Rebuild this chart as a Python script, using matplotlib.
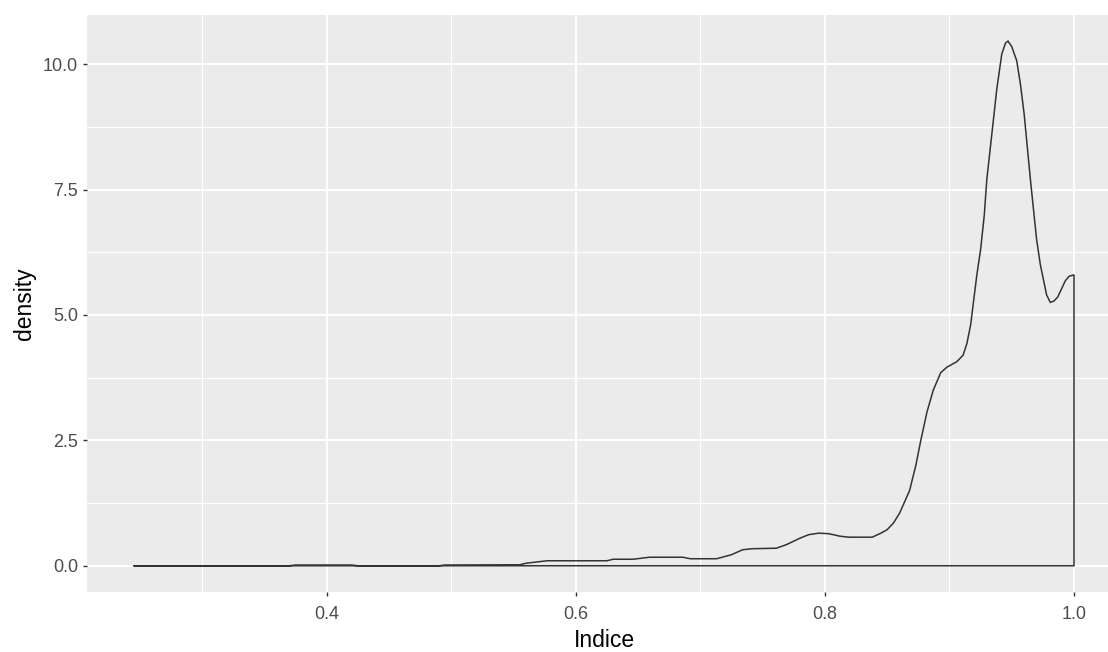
import numpy as np
import matplotlib.pyplot as plt
from matplotlib.ticker import FixedLocator

# density curve
indice = [0.2455, 0.30, 0.37, 0.375, 0.42, 0.425, 0.49, 0.495, 0.555, 0.56,
          0.577, 0.625, 0.63, 0.646, 0.659, 0.686, 0.692, 0.713, 0.725, 0.734,
          0.742, 0.761, 0.769, 0.780, 0.787, 0.795, 0.803, 0.812, 0.819, 0.830,
          0.838, 0.845, 0.850, 0.855, 0.860, 0.868, 0.873, 0.877, 0.882, 0.887,
          0.893, 0.898, 0.906, 0.911, 0.914, 0.917, 0.919, 0.922, 0.925, 0.928,
          0.930, 0.934, 0.938, 0.942, 0.945, 0.947, 0.950, 0.954, 0.957, 0.960,
          0.965, 0.970, 0.973, 0.976, 0.978, 0.981, 0.984, 0.987, 0.990, 0.993,
          0.996, 1.0]
density = [0.0, 0.0, 0.0, 0.015, 0.015, 0.0, 0.0, 0.015, 0.02, 0.05,
           0.10, 0.10, 0.13, 0.13, 0.17, 0.17, 0.14, 0.14, 0.22, 0.32,
           0.34, 0.35, 0.42, 0.55, 0.62, 0.65, 0.64, 0.59, 0.57, 0.57,
           0.57, 0.65, 0.72, 0.85, 1.05, 1.5, 2.0, 2.5, 3.07, 3.5,
           3.85, 3.96, 4.07, 4.2, 4.43, 4.8, 5.2, 5.8, 6.3, 7.0,
           7.7, 8.6, 9.5, 10.2, 10.42, 10.46, 10.35, 10.07, 9.6, 9.0,
           7.7, 6.5, 6.0, 5.64, 5.4, 5.25, 5.28, 5.36, 5.52, 5.68,
           5.77, 5.8]

x_major = [0.4, 0.6, 0.8, 1.0]
x_minor = [0.3, 0.5, 0.7, 0.9]
y_major = [0.0, 2.5, 5.0, 7.5, 10.0]
y_minor = [1.25, 3.75, 6.25, 8.75]

plt.rcParams['font.family'] = ['Liberation Sans', 'DejaVu Sans']

W, H = 1108, 652
fig = plt.figure(figsize=(W / 100, H / 100), dpi=100)
left, right, top, bottom = 87.3, 1108, 15, 592
ax = fig.add_axes([left / W, (H - bottom) / H, (right - left) / W, (bottom - top) / H])
ax.set_facecolor('#EBEBEB')
for s in ax.spines.values():
    s.set_visible(False)

ax.set_xlim(0.2078, 1.0273)
ax.set_ylim(-0.523, 10.98)

ax.xaxis.set_major_locator(FixedLocator(x_major))
ax.xaxis.set_minor_locator(FixedLocator(x_minor))
ax.yaxis.set_major_locator(FixedLocator(y_major))
ax.yaxis.set_minor_locator(FixedLocator(y_minor))
ax.set_xticklabels([f'{v:.1f}' for v in x_major])
ax.set_yticklabels([f'{v:.1f}' for v in y_major])

ax.grid(which='major', color='white', linewidth=1.4)
ax.grid(which='minor', color='white', linewidth=0.8)
ax.set_axisbelow(True)
ax.tick_params(which='major', length=3.2, width=1.0, color='#333333',
               labelsize=13, labelcolor='#4D4D4D')
ax.tick_params(axis='y', which='major', pad=3.5)
ax.tick_params(axis='x', which='major', pad=7)
ax.tick_params(which='minor', length=0)

# closed outline like geom_density: curve, then down to zero and back along the baseline
xs = list(indice) + [indice[-1], indice[0]]
ys = list(density) + [0.0, 0.0]
ax.plot(xs, ys, color='#333333', linewidth=1.1, solid_joinstyle='miter')

ax.set_xlabel('Indice', fontsize=16.5, labelpad=4)
ax.set_ylabel('density', fontsize=16.5, labelpad=5)
ax.xaxis.label.set_x((604 - left) / (right - left))

fig.savefig('out.png', dpi=100)
